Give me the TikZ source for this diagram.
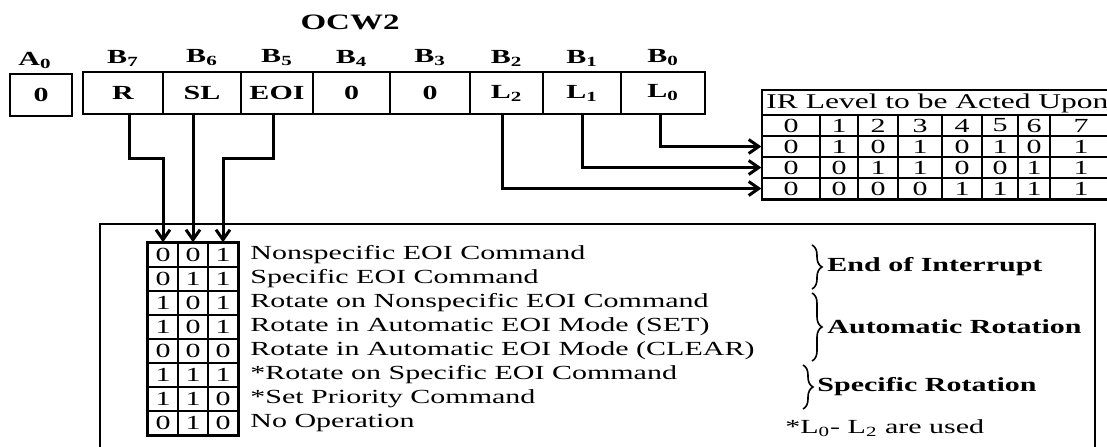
\documentclass[tikz,border=0pt]{standalone}
\usepackage{fontspec}
\setmainfont{Liberation Serif}[FakeStretch=1.5]
\usetikzlibrary{arrows.meta,decorations.pathreplacing,calc}
\begin{document}
\begin{tikzpicture}[x=0.5pt,y=-0.5pt,
  conn/.style={line width=1.5pt},
  arr/.style={conn,-{Straight Barb[length=5pt,width=7pt]}},
  regcell/.style={draw,line width=1.1pt,inner sep=0pt,minimum height=21pt,font=\bfseries},
  bitlbl/.style={font=\bfseries,inner sep=0pt},
  tcell/.style={draw,line width=0.7pt,inner sep=0pt},
  cmd/.style={anchor=west,inner sep=0pt},
  grp/.style={anchor=west,inner sep=0pt,font=\bfseries},
  brc/.style={decorate,decoration={brace,amplitude=5pt},line width=0.8pt}
]
\useasboundingbox (0,0) rectangle (1107,446);

% title
\node[font=\bfseries\fontsize{11}{13}\selectfont] (title) at (350,22) {OCW2};

% A0 box
\node[regcell,minimum width=31pt] (a0box) at (41,95) {0};
\node[bitlbl] (a0lbl) at (35,60) {A\textsubscript{0}};

% register cells and bit labels
\foreach \n/\a/\b/\t/\l in {R/83/163/R/7, SL/163/241/SL/6, EOI/241/313/EOI/5, Bf/313/390/0/4, Bt/390/470/0/3, Ltwo/470/543/L\textsubscript{2}/2, Lone/543/621/L\textsubscript{1}/1, Lzero/621/705/L\textsubscript{0}/0}
{
  \node[regcell,minimum width={(\b-\a)*0.5pt}] (c\n) at ({(\a+\b)/2},93) {\t};
  \node[bitlbl] (lbl\l) at ({(\a+\b)/2},58) {B\textsubscript{\l}};
}

% IR table
\def\irx{{762,820,858,898,942,982,1018,1050,1112}}
\node[tcell,anchor=north west,minimum width=175pt,minimum height=12.5pt] (irtitle) at (762,90) {};
\node[anchor=west,inner sep=0pt,font=\fontsize{10.5}{12}\selectfont] (irtext) at (766,103) {IR Level to be Acted Upon};
\foreach \rn/\yc/\vals in {h/125.5/{0,1,2,3,4,5,6,7}, a/146.5/{0,1,0,1,0,1,0,1}, b/167.5/{0,0,1,1,0,0,1,1}, c/188.5/{0,0,0,0,1,1,1,1}}
{
  \foreach \v [count=\i from 0] in \vals {
    \pgfmathsetmacro\xa{\irx[\i]}
    \pgfmathsetmacro\xb{\irx[\i+1]}
    \node[tcell,minimum width={(\xb-\xa)*0.5pt},minimum height=10.5pt] (ir\rn\i) at ({(\xa+\xb)/2},\yc) {\v};
  }
}
\draw[line width=1.3pt] (irtitle.north west) rectangle (irc7.south east);

% command table
\foreach \r/\p/\q/\s/\txt in {1/0/0/1/Nonspecific EOI Command, 2/0/1/1/Specific EOI Command, 3/1/0/1/Rotate on Nonspecific EOI Command, 4/1/0/1/Rotate in Automatic EOI Mode (SET), 5/0/0/0/Rotate in Automatic EOI Mode (CLEAR), 6/1/1/1/*Rotate on Specific EOI Command, 7/1/1/0/*Set Priority Command, 8/0/1/0/No Operation}
{
  \pgfmathsetmacro\yc{255+24*(\r-1)}
  \node[tcell,minimum width=15pt,minimum height=12pt] (b\r1) at (163,\yc) {\p};
  \node[tcell,minimum width=15pt,minimum height=12pt] (b\r2) at (193,\yc) {\q};
  \node[tcell,minimum width=15pt,minimum height=12pt] (b\r3) at (223,\yc) {\s};
  \node[cmd] (cmd\r) at (250,\yc) {\txt};
}
\draw[line width=1.3pt] (b11.north west) rectangle (b83.south east);

% big frame
\draw[line width=1pt] (100,470) -- (100,224) -- (1095,224) -- (1095,470);

% braces and group labels
\draw[brc] (812,245) -- (812,289);
\node[grp] (geoi) at (827,267) {End of Interrupt};
\draw[brc] (812,293) -- (812,361);
\node[grp] (gauto) at (827,327) {Automatic Rotation};
\draw[brc] (803,365) -- (803,409);
\node[grp] (gspec) at (817,387) {Specific Rotation};
\node[anchor=west,inner sep=0pt] (note) at (785,428) {*L\textsubscript{0}- L\textsubscript{2} are used};

% connectors
\draw[arr] ([xshift=3pt]cR.south) -- ++(0,43) -| (b11.north);
\draw[arr] (cSL.south -| b12.north) -- (b12.north);
\draw[arr] ([xshift=-2pt]cEOI.south) -- ++(0,43) -| (b13.north);
\draw[arr] ([xshift=-2pt]cLtwo.south) |- (irc0.west);
\draw[arr] (cLone.south) |- (irb0.west);
\draw[arr] ([xshift=-1.5pt]cLzero.south) |- (ira0.west);
\end{tikzpicture}
\end{document}
